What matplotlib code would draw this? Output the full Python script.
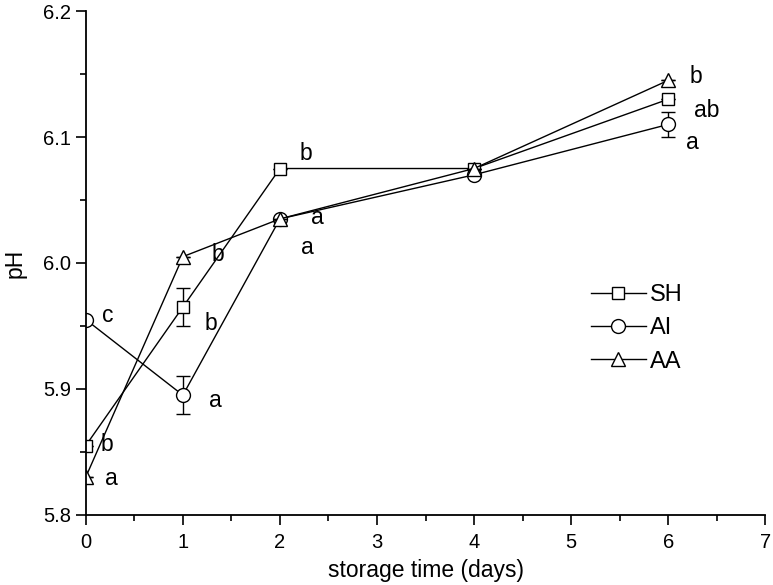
import matplotlib
matplotlib.use("Agg")
import matplotlib.pyplot as plt
from matplotlib.ticker import MultipleLocator

plt.rcParams['font.family'] = ['Liberation Sans', 'DejaVu Sans']

days = [0, 1, 2, 4, 6]
sh = [5.855, 5.965, 6.075, 6.075, 6.130]
sh_err = [0.0, 0.015, 0.0, 0.0, 0.0]
ai = [5.955, 5.895, 6.035, 6.070, 6.110]
ai_err = [0.0, 0.015, 0.0, 0.0, 0.010]
aa = [5.830, 6.005, 6.035, 6.075, 6.145]
aa_err = [0.0, 0.0, 0.0, 0.0, 0.0]
series_names = ['SH', 'AI', 'AA']

# significance letters
letters_x = [0.17, 0.15, 0.2, 1.22, 1.3, 1.27, 2.2, 2.32, 2.22, 6.22, 6.27, 6.18]
letters_y = [5.958, 5.856, 5.829, 5.952, 6.007, 5.891, 6.087, 6.036, 6.012, 6.148, 6.121, 6.096]
letters_t = ['c', 'b', 'a', 'b', 'b', 'a', 'b', 'a', 'a', 'b', 'ab', 'a']

fig = plt.figure(figsize=(7.73, 5.85), dpi=100)
ax = fig.add_axes([0.111, 0.12, 0.879, 0.861])

markers = ['s', 'o', '^']
sizes = [8.5, 10, 10]
handles = []
for vals, errs, m, s, name in zip([sh, ai, aa], [sh_err, ai_err, aa_err], markers, sizes, series_names):
    ax.errorbar(days, vals, yerr=errs, fmt='none', ecolor='black',
                elinewidth=1.0, capsize=5, capthick=1.0)
    ln, = ax.plot(days, vals, color='black', lw=1.0, marker=m, ms=s,
                  mfc='white', mec='black', mew=1.0, label=name)
    handles.append(ln)

for x, y, t in zip(letters_x, letters_y, letters_t):
    ax.text(x, y, t, fontsize=16.5, va='center', ha='left')

ax.set_xlim(0, 7)
ax.set_ylim(5.8, 6.2)
ax.xaxis.set_major_locator(MultipleLocator(1))
ax.xaxis.set_minor_locator(MultipleLocator(0.5))
ax.yaxis.set_major_locator(MultipleLocator(0.1))
ax.yaxis.set_minor_locator(MultipleLocator(0.05))
ax.yaxis.set_major_formatter(plt.FormatStrFormatter('%.1f'))
ax.tick_params(which='major', direction='out', length=7, width=1.2, labelsize=14.5)
ax.tick_params(which='minor', direction='out', length=4, width=1.2)
ax.tick_params(axis='x', pad=6)
for sp in ['top', 'right']:
    ax.spines[sp].set_visible(False)
for sp in ['left', 'bottom']:
    ax.spines[sp].set_linewidth(1.3)

ax.set_xlabel('storage time (days)', fontsize=16.5, labelpad=5)
ax.set_ylabel('pH', fontsize=16.5, labelpad=12)

ax.legend(handles=handles, loc='upper left', bbox_to_anchor=(0.730, 0.477), frameon=False,
          fontsize=17, handlelength=2.3, handletextpad=0.2,
          labelspacing=0.48, borderaxespad=0)

fig.savefig('out.png', dpi=100)
